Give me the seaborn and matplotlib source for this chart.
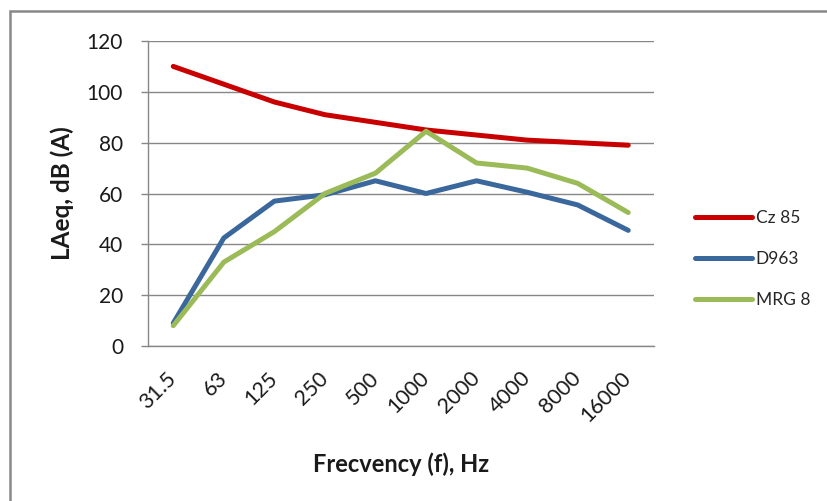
import matplotlib
matplotlib.use("Agg")
import matplotlib.pyplot as plt
import matplotlib.transforms as mtransforms
from matplotlib.patches import Rectangle
from matplotlib.ticker import FixedLocator
import numpy as np
import pandas as pd
import seaborn as sns

# Octave-band centre frequencies (Hz) and measured LAeq levels per source
freq_labels = ["31.5", "63", "125", "250", "500", "1000", "2000", "4000", "8000", "16000"]
cz85 = [110, 103, 96, 91, 88, 85, 83, 81, 80, 79]
d963 = [9, 42.5, 57, 59.5, 65, 60, 65, 60.5, 55.5, 45.5]
mrg8 = [8, 33, 45, 60, 68, 84.5, 72, 70, 64, 52.5]
series_names = ["Cz 85", "D963", "MRG 8"]
y_ticks = [0, 20, 40, 60, 80, 100, 120]

colors = {"Cz 85": "#C80000", "D963": "#3A679C", "MRG 8": "#9BBB59"}

df = pd.DataFrame({
    "freq": freq_labels * 3,
    "level": cz85 + d963 + mrg8,
    "source": [n for n, vals in zip(series_names, [cz85, d963, mrg8]) for _ in vals],
})

sns.set_theme(style="white")
plt.rcParams["font.family"] = ["Lato", "DejaVu Sans"]

W, H = 827, 501
fig = plt.figure(figsize=(W / 100, H / 100), dpi=100)
ax = fig.add_axes([148 / W, 1 - 346 / H, (653.5 - 148) / W, (346 - 41) / H])

sns.lineplot(data=df, x="freq", y="level", hue="source", hue_order=series_names,
             palette=colors, linewidth=3.6, sort=False, ax=ax, legend=True)

grid_c = "#878787"
ax.set_ylim(0, 120)
ax.set_xlim(-0.5, len(freq_labels) - 0.5)
ax.set_yticks(y_ticks)
ax.set_yticklabels([str(v) for v in y_ticks], fontsize=15, color="#1a1a1a")
ax.yaxis.grid(True, color=grid_c, linewidth=1.0)
ax.xaxis.grid(False)
ax.set_axisbelow(True)

ax.set_xticks(range(len(freq_labels)))
ax.set_xticklabels(freq_labels, rotation=45, ha="right", va="center",
                   rotation_mode="anchor", fontsize=15.5, color="#1a1a1a")
shift = mtransforms.ScaledTranslation(4 / 100, 0, fig.dpi_scale_trans)
for lbl in ax.get_xticklabels():
    lbl.set_transform(lbl.get_transform() + shift)
ax.xaxis.set_minor_locator(FixedLocator(np.arange(-0.5, len(freq_labels), 1.0)))
ax.tick_params(axis="x", which="major", length=0, pad=21)
ax.tick_params(axis="x", which="minor", length=6, width=1.0, color=grid_c, direction="out")
ax.tick_params(axis="y", which="major", length=5, width=1.0, color=grid_c, pad=13, left=True)

for side in ["top", "right"]:
    ax.spines[side].set_visible(False)
for side in ["left", "bottom"]:
    ax.spines[side].set_color(grid_c)
    ax.spines[side].set_linewidth(1.0)

ax.set_xlabel("Frecvency (f), Hz", fontsize=17, fontweight="bold", color="#1a1a1a", labelpad=19)
ax.set_ylabel("LAeq, dB (A)", fontsize=17.5, fontweight="bold", color="#1a1a1a", labelpad=9)

handles, labels = ax.get_legend_handles_labels()
leg = ax.legend(handles, labels, loc="center left",
                bbox_to_anchor=(695 / W, 1 - 259 / H), bbox_transform=fig.transFigure,
                frameon=False, fontsize=12.5, handlelength=3.3, handletextpad=0.2,
                labelspacing=1.45, borderpad=0, borderaxespad=0)
for line in leg.get_lines():
    line.set_linewidth(3.6)

# chart area frame (runs off the right and bottom edges)
fig.patches.append(Rectangle((9.5 / W, -0.1), 2.0, 1.1 - 11 / H, transform=fig.transFigure,
                             fill=False, edgecolor="#888888", linewidth=1.8, clip_on=False))

fig.savefig("out.png", dpi=100)
